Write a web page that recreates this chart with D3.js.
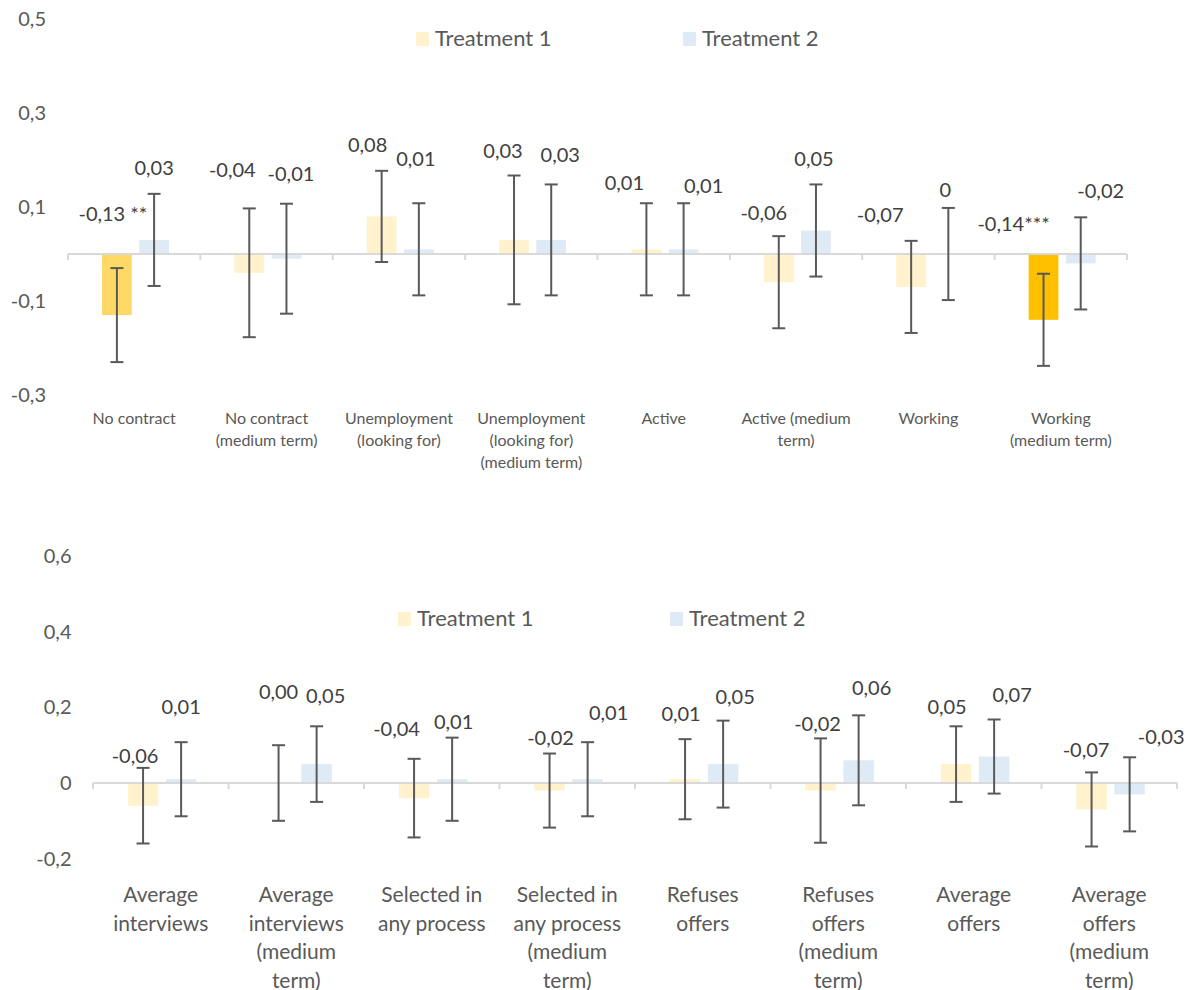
<!DOCTYPE html>
<html>
<head>
<meta charset="utf-8">
<script src="https://cdn.jsdelivr.net/npm/d3@7"></script>
<style>
  html, body { margin: 0; padding: 0; background: #fff; }
  svg { display: block; font-family: Lato, "Open Sans", sans-serif; }
</style>
</head>
<body>
<svg id="chart" width="1195" height="990"></svg>
<script>
// ---- Labour-market outcomes (upper panel) ----
const topCategories = [
  "No contract", "No contract\n(medium term)", "Unemployment\n(looking for)",
  "Unemployment\n(looking for)\n(medium term)", "Active", "Active (medium\nterm)",
  "Working", "Working\n(medium term)"
];
const topT1 = [-0.13, -0.04, 0.08, 0.03, 0.01, -0.06, -0.07, -0.14];
const topT2 = [0.03, -0.01, 0.01, 0.03, 0.01, 0.05, 0, -0.02];
const topT1Err = [0.10, 0.137, 0.097, 0.137, 0.098, 0.098, 0.098, 0.098];
const topT2Err = [0.098, 0.117, 0.098, 0.118, 0.098, 0.098, 0.098, 0.098];
const topT1Stars = [" **", "", "", "", "", "", "", "***"];
const topT2Stars = ["", "", "", "", "", "", "", ""];
const topTicks = [-0.3, -0.1, 0.1, 0.3, 0.5];

// ---- Job-search outcomes (lower panel) ----
const bottomCategories = [
  "Average\ninterviews", "Average\ninterviews\n(medium\nterm)",
  "Selected in\nany process", "Selected in\nany process\n(medium\nterm)",
  "Refuses\noffers", "Refuses\noffers\n(medium\nterm)",
  "Average\noffers", "Average\noffers\n(medium\nterm)"
];
const bottomT1 = [-0.06, 0.00, -0.04, -0.02, 0.01, -0.02, 0.05, -0.07];
const bottomT2 = [0.01, 0.05, 0.01, 0.01, 0.05, 0.06, 0.07, -0.03];
const bottomT1Err = [0.10, 0.10, 0.104, 0.098, 0.106, 0.138, 0.10, 0.098];
const bottomT2Err = [0.098, 0.10, 0.11, 0.098, 0.115, 0.119, 0.098, 0.098];
const bottomT1Stars = ["", "", "", "", "", "", "", ""];
const bottomT2Stars = ["", "", "", "", "", "", "", ""];
const bottomTicks = [-0.2, 0, 0.2, 0.4, 0.6];

const seriesNames = ["Treatment 1", "Treatment 2"];

// Hand-placed value-label nudges [dx, dy] from the bar centre / top of the whisker
const topT1LabelShift = [[-4,-47],[-17,-31],[-14,-19],[-11,-18],[-22,-13],[-15,-16],[-31,-19],[-30,-43]];
const topT2LabelShift = [[0,-19],[4.5,-23],[-3,-37],[9,-22],[20,-10],[-2,-18],[-3,-11],[20,-19]];
const bottomT1LabelShift = [[-8,-5],[0,-46],[-17.5,-23],[1,-9],[-4,-18],[-3,-7],[-9,-12],[-5.5,-15]];
const bottomT2LabelShift = [[0,-28],[9,-23],[1.5,-9],[21,-22],[12,-17],[13,-20],[18,-17],[31.5,-13]];

// Colours
const lightFill = ["#FFF2CC", "#DEEBF7"];
const starFill = { "**": "#FFD966", "***": "#FFC000" };
const axisColor = "#D9D9D9";
const textColor = "#595959";
const labelColor = "#404040";
const whiskerColor = "#595959";

const locale = d3.formatLocale({ decimal: ",", thousands: ".", grouping: [3], currency: ["", "€"], minus: "-" });
const fmtGeneral = locale.format("~g");
const fmtTwo = locale.format(".2f");

const svg = d3.select("#chart");

function drawPanel(p) {
  const g = svg.append("g");
  const x = d3.scaleBand().domain(p.categories).range(p.xRange).padding(0);
  const sub = d3.scaleBand().domain(seriesNames).range([0, x.bandwidth()])
    .paddingInner(0.2).paddingOuter(0.88).align(0.52);
  const y = d3.scaleLinear().domain(p.yDomain).range(p.yRange);

  const series = [
    { name: seriesNames[0], values: p.t1, err: p.t1Err, stars: p.t1Stars, shift: p.t1Shift, fill: lightFill[0] },
    { name: seriesNames[1], values: p.t2, err: p.t2Err, stars: p.t2Stars, shift: p.t2Shift, fill: lightFill[1] }
  ];
  const rows = [];
  series.forEach(s => {
    p.categories.forEach((c, i) => {
      rows.push({
        cat: c, series: s.name, v: s.values[i], e: s.err[i],
        stars: s.stars[i], shift: s.shift[i],
        fill: starFill[s.stars[i].trim()] || s.fill
      });
    });
  });
  const cx = d => x(d.cat) + sub(d.series) + sub.bandwidth() / 2;

  // y tick labels (no gridlines)
  g.append("g").selectAll("text").data(p.ticks).join("text")
    .attr("x", p.tickLabelX).attr("y", d => y(d)).attr("dy", "0.35em")
    .attr("text-anchor", "end").attr("fill", textColor)
    .attr("font-size", 20).text(d => fmtGeneral(d));

  // bars
  g.append("g").selectAll("rect").data(rows).join("rect")
    .attr("x", d => x(d.cat) + sub(d.series))
    .attr("width", sub.bandwidth())
    .attr("y", d => y(Math.max(0, d.v)))
    .attr("height", d => Math.abs(y(d.v) - y(0)))
    .attr("fill", d => d.fill);

  // category axis at zero with boundary ticks
  const ax = g.append("g").attr("stroke", axisColor).attr("stroke-width", 2);
  ax.append("line").attr("x1", p.xRange[0]).attr("x2", p.xRange[1])
    .attr("y1", y(0)).attr("y2", y(0));
  const bounds = p.categories.map(c => x(c)).concat([p.xRange[1]]);
  ax.selectAll("line.tick").data(bounds).join("line").attr("class", "tick")
    .attr("x1", d => d).attr("x2", d => d)
    .attr("y1", y(0)).attr("y2", y(0) + 6);

  // whiskers
  const cap = 6.5;
  const wg = g.append("g").attr("stroke", whiskerColor).attr("stroke-width", 2).attr("fill", "none");
  const w = wg.selectAll("g").data(rows).join("g");
  w.append("line").attr("x1", cx).attr("x2", cx)
    .attr("y1", d => y(d.v + d.e)).attr("y2", d => y(d.v - d.e));
  w.append("line").attr("x1", d => cx(d) - cap).attr("x2", d => cx(d) + cap)
    .attr("y1", d => y(d.v + d.e)).attr("y2", d => y(d.v + d.e));
  w.append("line").attr("x1", d => cx(d) - cap).attr("x2", d => cx(d) + cap)
    .attr("y1", d => y(d.v - d.e)).attr("y2", d => y(d.v - d.e));

  // value labels
  g.append("g").selectAll("text").data(rows).join("text")
    .attr("x", d => cx(d) + d.shift[0])
    .attr("y", d => y(d.v + d.e) + d.shift[1])
    .attr("text-anchor", "middle").attr("fill", labelColor).attr("font-size", 20)
    .text(d => p.fmt(d.v) + d.stars);

  // category labels
  const cl = g.append("g").selectAll("text").data(p.categories).join("text")
    .attr("x", c => x(c) + x.bandwidth() / 2)
    .attr("y", p.catLabelY)
    .attr("text-anchor", "middle").attr("fill", textColor).attr("font-size", p.catFont);
  cl.selectAll("tspan").data(c => c.split("\n")).join("tspan")
    .attr("x", function () { return d3.select(this.parentNode).attr("x"); })
    .attr("dy", (d, i) => i === 0 ? 0 : p.catLineHeight)
    .text(d => d);

  // legend
  const lg = g.append("g");
  seriesNames.forEach((name, i) => {
    lg.append("rect").attr("x", p.legendX[i]).attr("y", p.legendY)
      .attr("width", 13).attr("height", 14).attr("fill", lightFill[i]);
    lg.append("text").attr("x", p.legendX[i] + 19).attr("y", p.legendY + 14)
      .attr("fill", textColor).attr("font-size", 22).text(name);
  });
}

drawPanel({
  categories: topCategories, t1: topT1, t2: topT2, t1Err: topT1Err, t2Err: topT2Err,
  t1Stars: topT1Stars, t2Stars: topT2Stars, t1Shift: topT1LabelShift, t2Shift: topT2LabelShift,
  ticks: topTicks, fmt: fmtGeneral,
  xRange: [68, 1127], yDomain: [-0.3, 0.5], yRange: [395, 19], tickLabelX: 46,
  catLabelY: 424, catFont: 16, catLineHeight: 22,
  legendX: [416, 683], legendY: 32
});

drawPanel({
  categories: bottomCategories, t1: bottomT1, t2: bottomT2, t1Err: bottomT1Err, t2Err: bottomT2Err,
  t1Stars: bottomT1Stars, t2Stars: bottomT2Stars, t1Shift: bottomT1LabelShift, t2Shift: bottomT2LabelShift,
  ticks: bottomTicks, fmt: fmtTwo,
  xRange: [93, 1177], yDomain: [-0.2, 0.6], yRange: [858.6, 556.2], tickLabelX: 71.5,
  catLabelY: 902, catFont: 21, catLineHeight: 28.5,
  legendX: [398, 670], legendY: 612
});
</script>
</body>
</html>
